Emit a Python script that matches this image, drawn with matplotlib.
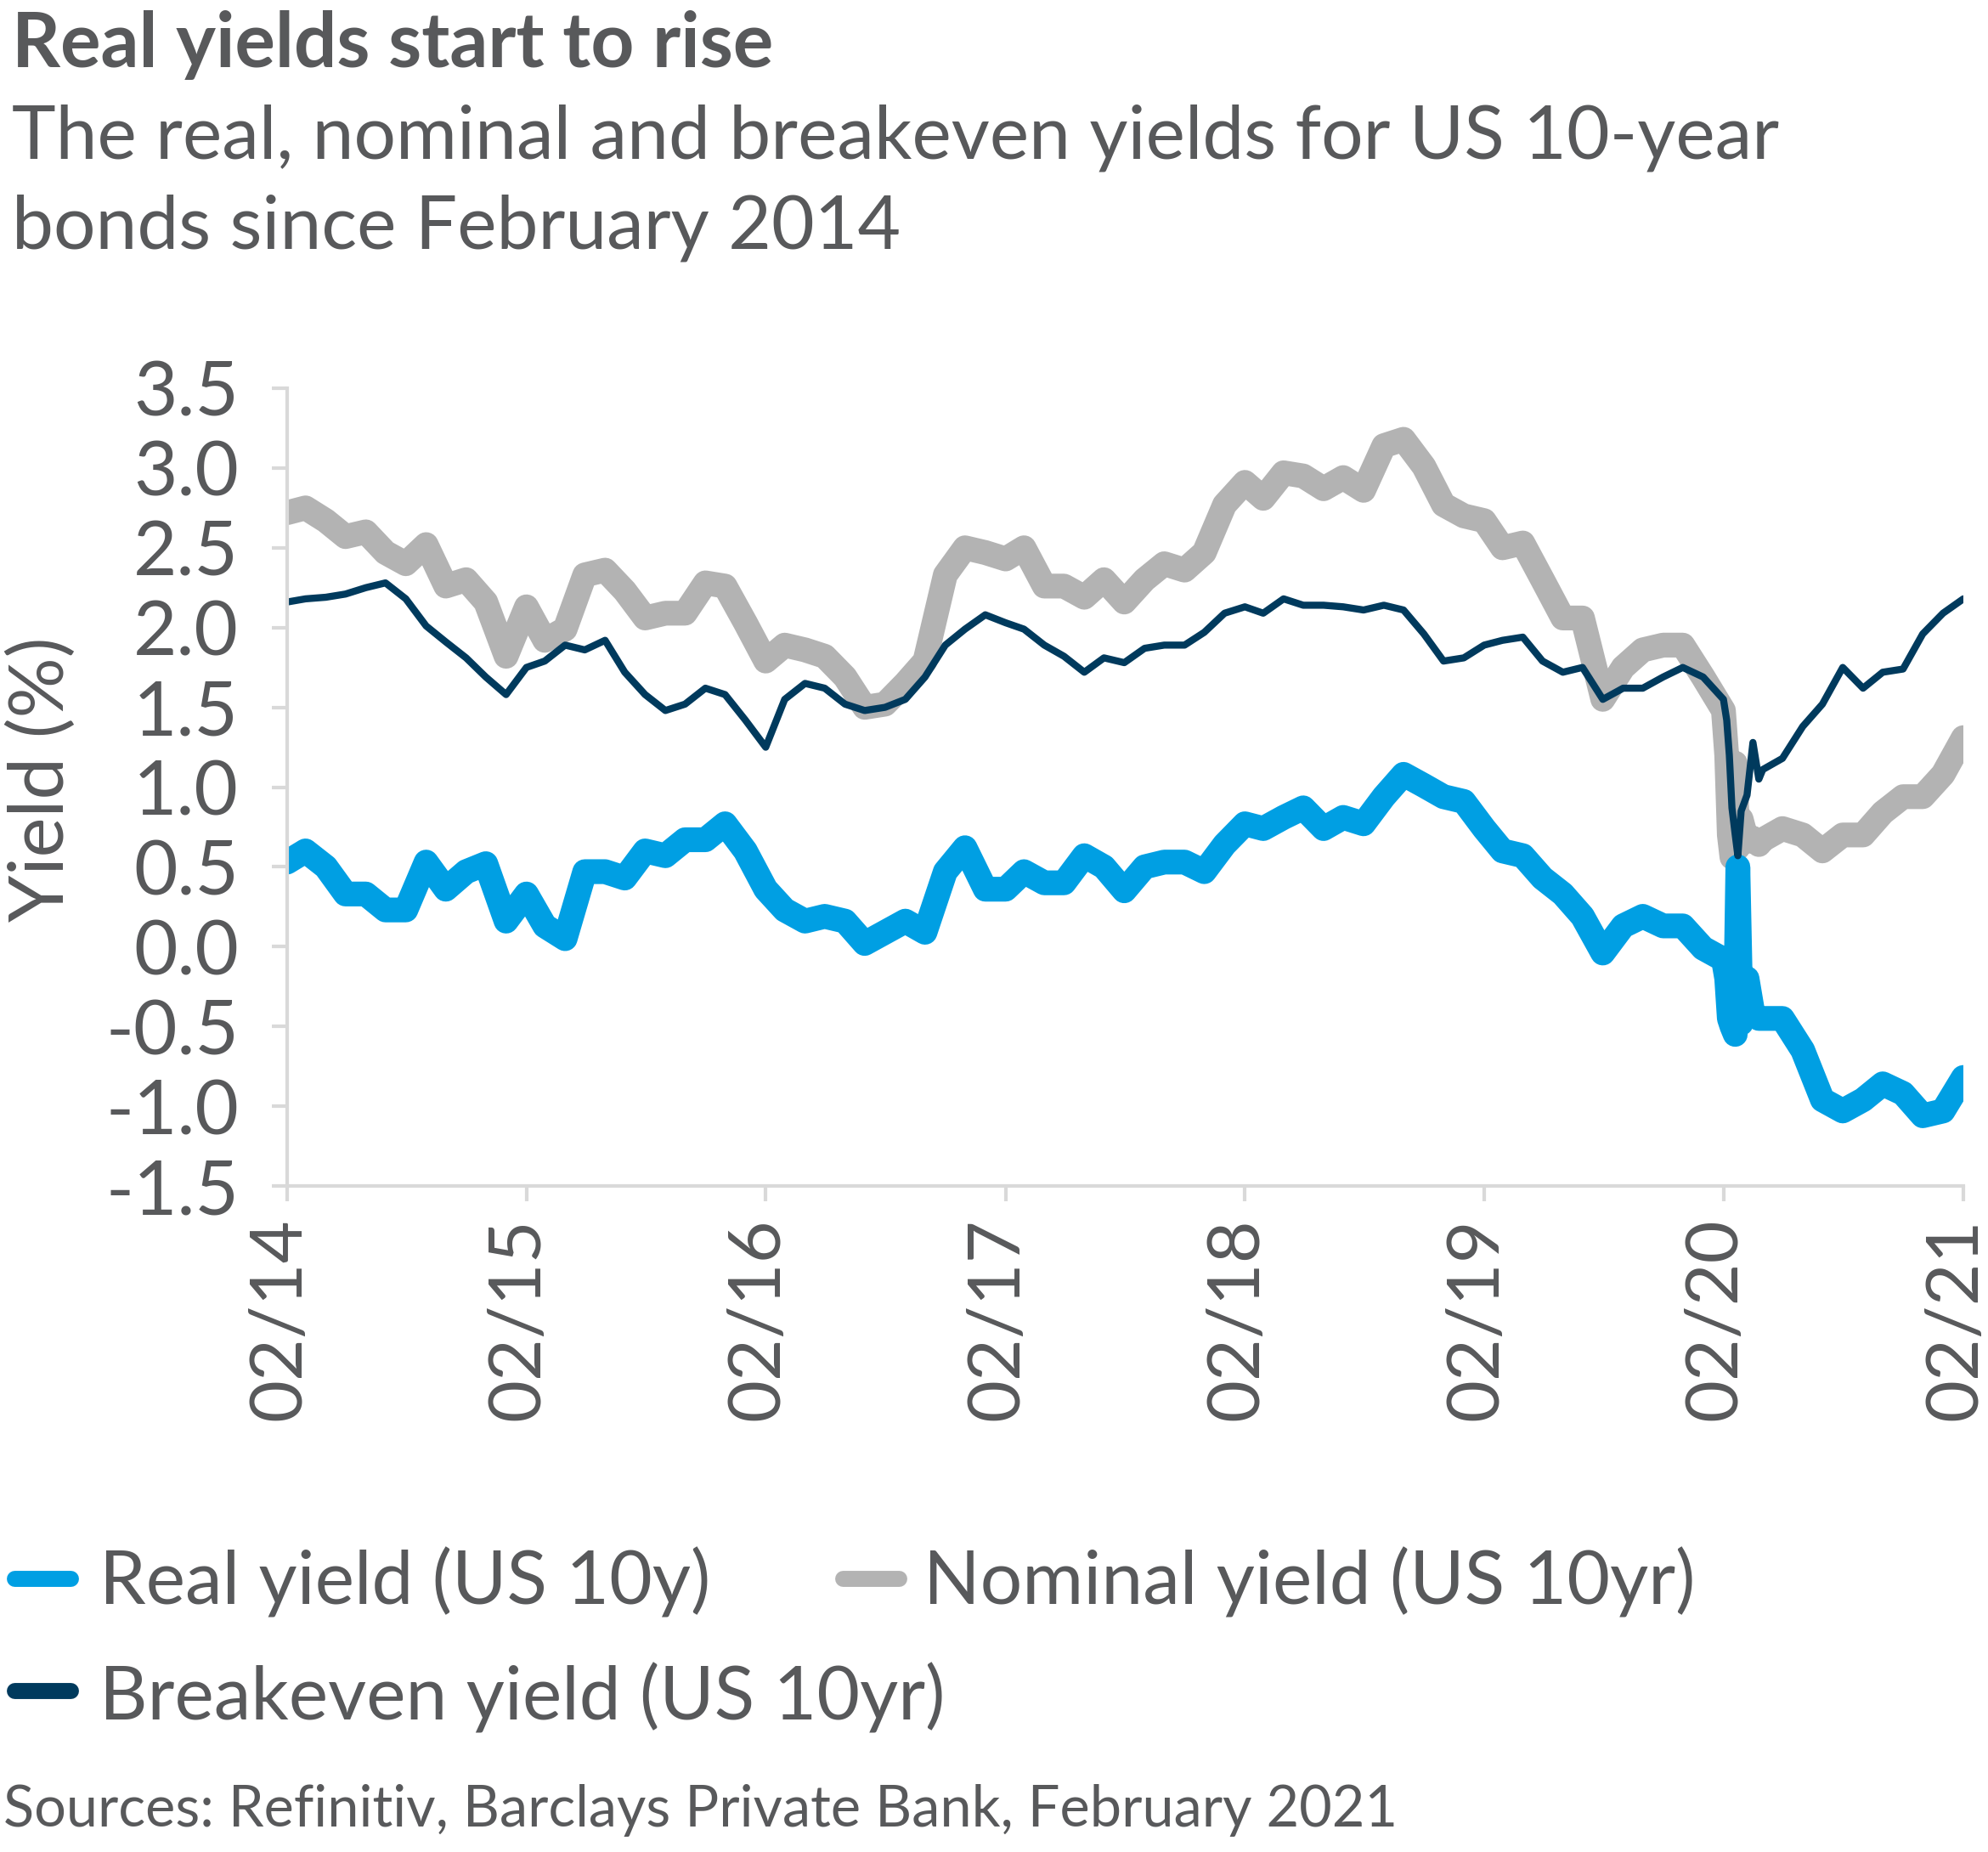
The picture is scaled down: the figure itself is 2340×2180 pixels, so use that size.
import numpy as np
import pandas as pd
import matplotlib
matplotlib.use("Agg")
import matplotlib.pyplot as plt
import matplotlib.transforms as mtransforms
from matplotlib.lines import Line2D

# --- data (% yield) ---
# monthly Feb 2014 .. Jan 2020, then a finer look at the Feb/Mar 2020 crash, then monthly to Feb 2021
dates = (list(pd.date_range("2014-02-01", "2020-01-01", freq="MS"))
         + list(pd.to_datetime(["2020-02-01", "2020-02-06", "2020-02-10", "2020-02-14",
                                "2020-02-19", "2020-02-23", "2020-02-28", "2020-03-08",
                                "2020-03-17", "2020-03-26", "2020-04-01"]))
         + list(pd.date_range("2020-05-01", "2021-02-01", freq="MS")))

nominal_yield = [
    2.72, 2.75, 2.67, 2.57, 2.60, 2.47, 2.40, 2.52, 2.26, 2.30, 2.16, 1.82,
    2.13, 1.92, 1.99, 2.33, 2.36, 2.23, 2.06, 2.09, 2.09, 2.28, 2.26, 2.03,
    1.79, 1.89, 1.86, 1.82, 1.69, 1.50, 1.52, 1.65, 1.79, 2.33, 2.50, 2.47,
    2.43, 2.50, 2.26, 2.26, 2.19, 2.30, 2.16, 2.30, 2.40, 2.36, 2.47, 2.77,
    2.91, 2.81, 2.97, 2.95, 2.87, 2.94, 2.86, 3.14, 3.18, 3.01, 2.77, 2.70,
    2.67, 2.50, 2.53, 2.30, 2.06, 2.06, 1.55, 1.75, 1.86, 1.89, 1.89, 1.69,
    1.48, 1.20, 0.70, 0.56, 1.15, 0.62, 0.80, 0.66, 0.68, 0.64, 0.67,
    0.74, 0.70, 0.60, 0.70, 0.70, 0.84, 0.94, 0.94, 1.08, 1.31]

breakeven_yield = [
    2.16, 2.18, 2.19, 2.21, 2.25, 2.28, 2.18, 2.01, 1.91, 1.81, 1.69, 1.58,
    1.75, 1.79, 1.89, 1.86, 1.92, 1.72, 1.58, 1.48, 1.52, 1.62, 1.58, 1.42,
    1.25, 1.55, 1.65, 1.62, 1.52, 1.48, 1.50, 1.55, 1.69, 1.89, 1.99, 2.08,
    2.03, 1.99, 1.89, 1.82, 1.72, 1.81, 1.78, 1.87, 1.89, 1.89, 1.97, 2.09,
    2.13, 2.09, 2.18, 2.14, 2.14, 2.13, 2.11, 2.14, 2.11, 1.96, 1.79, 1.81,
    1.89, 1.92, 1.94, 1.79, 1.72, 1.75, 1.55, 1.62, 1.62, 1.69, 1.75, 1.69,
    1.55, 1.42, 1.20, 0.87, 0.70, 0.57, 0.85, 0.95, 1.28, 1.05, 1.11,
    1.18, 1.38, 1.52, 1.75, 1.62, 1.72, 1.74, 1.96, 2.09, 2.18]

real_yield = [
    0.53, 0.60, 0.50, 0.33, 0.33, 0.23, 0.23, 0.53, 0.36, 0.47, 0.52, 0.16,
    0.33, 0.13, 0.05, 0.47, 0.47, 0.43, 0.60, 0.57, 0.67, 0.67, 0.77, 0.60,
    0.36, 0.23, 0.16, 0.19, 0.16, 0.02, 0.09, 0.16, 0.09, 0.47, 0.62, 0.36,
    0.36, 0.47, 0.40, 0.40, 0.57, 0.50, 0.35, 0.50, 0.53, 0.53, 0.47, 0.64,
    0.77, 0.74, 0.81, 0.87, 0.74, 0.81, 0.77, 0.94, 1.08, 1.01, 0.94, 0.91,
    0.74, 0.60, 0.57, 0.43, 0.33, 0.19, -0.04, 0.13, 0.19, 0.13, 0.13, -0.01,
    -0.08, -0.20, -0.45, -0.50, -0.55, 0.50, -0.48, -0.20, -0.42, -0.45, -0.45,
    -0.45, -0.65, -0.96, -1.03, -0.96, -0.86, -0.92, -1.06, -1.03, -0.82]

y_ticks = [-1.5, -1.0, -0.5, 0.0, 0.5, 1.0, 1.5, 2.0, 2.5, 3.0, 3.5]
x_tick_years = list(range(2014, 2022))

labels = ["Real yield (US 10y)", "Nominal yield (US 10yr)", "Breakeven yield (US 10yr)"]
colors = {"real": "#009FE3", "nominal": "#B3B3B3", "breakeven": "#003A5D"}
text_col = "#58595B"
axis_col = "#D9D9D9"

W, H, DPI = 2340, 2180, 200
plt.rcParams['font.family'] = ['Lato', 'DejaVu Sans']

fig = plt.figure(figsize=(W / DPI, H / DPI), dpi=DPI)
ax = fig.add_axes([338 / W, 1 - 1396 / H, (2311 - 338) / W, (1396 - 457) / H])

ax.plot(dates, nominal_yield, color=colors["nominal"], lw=10.5,
        solid_joinstyle='round', solid_capstyle='round')
ax.plot(dates, real_yield, color=colors["real"], lw=10.5,
        solid_joinstyle='round', solid_capstyle='round')
ax.plot(dates, breakeven_yield, color=colors["breakeven"], lw=3,
        solid_joinstyle='round', solid_capstyle='round')

ax.set_xlim(pd.Timestamp("2014-02-01"), pd.Timestamp("2021-02-01"))
ax.set_ylim(-1.5, 3.5)
ax.set_yticks(y_ticks)
ax.set_yticklabels([f"{v:.1f}" for v in y_ticks])
xt = [pd.Timestamp(f"{y}-02-01") for y in x_tick_years]
ax.set_xticks(xt)
ax.set_xticklabels([f"02/{str(y)[2:]}" for y in x_tick_years], rotation=90, va='top')

for s in ["top", "right"]:
    ax.spines[s].set_visible(False)
for s in ["left", "bottom"]:
    ax.spines[s].set_color(axis_col)
    ax.spines[s].set_linewidth(1.5)
ax.tick_params(axis='both', colors=axis_col, length=6.5, width=1.5, labelcolor=text_col,
               labelsize=32)
ax.tick_params(axis='y', pad=14)
ax.tick_params(axis='x', pad=7, labelsize=31)

# rotated date labels sit a touch left of their ticks in the original
shift = mtransforms.ScaledTranslation(-9 / DPI, 0, fig.dpi_scale_trans)
for lbl in ax.get_xticklabels():
    lbl.set_transform(lbl.get_transform() + shift)

fig.text(50 / W, 1 - 917 / H, "Yield (%)", rotation=90, ha='center', va='center',
         fontsize=32, color=text_col)

# title block
fig.text(14 / W, 1 - 79 / H, "Real yields start to rise", fontsize=32, fontweight='bold',
         color=text_col, va='baseline')
fig.text(14 / W, 1 - 187 / H, "The real, nominal and breakeven yields for US 10-year",
         fontsize=31.5, color=text_col, va='baseline')
fig.text(14 / W, 1 - 293 / H, "bonds since February 2014", fontsize=31.5, color=text_col,
         va='baseline')

# legend drawn as flow layout
legend_items = [
    (labels[0], colors["real"], 7, 1858, 117, 1889),
    (labels[1], colors["nominal"], 982, 1858, 1087, 1889),
    (labels[2], colors["breakeven"], 7, 1990, 117, 2025),
]
for lab, col, sx, sy, tx, ty in legend_items:
    fig.add_artist(Line2D([(sx + 10) / W, (sx + 76) / W], [1 - sy / H, 1 - sy / H],
                          transform=fig.transFigure, color=col, lw=6.8,
                          solid_capstyle='round'))
    fig.text(tx / W, 1 - ty / H, lab, fontsize=31.5, color=text_col, va='baseline')

fig.text(4 / W, 1 - 2150 / H, "Sources: Refinitiv, Barclays Private Bank, February 2021",
         fontsize=24, color=text_col, va='baseline')

fig.savefig("out.png", dpi=DPI, facecolor='white')
